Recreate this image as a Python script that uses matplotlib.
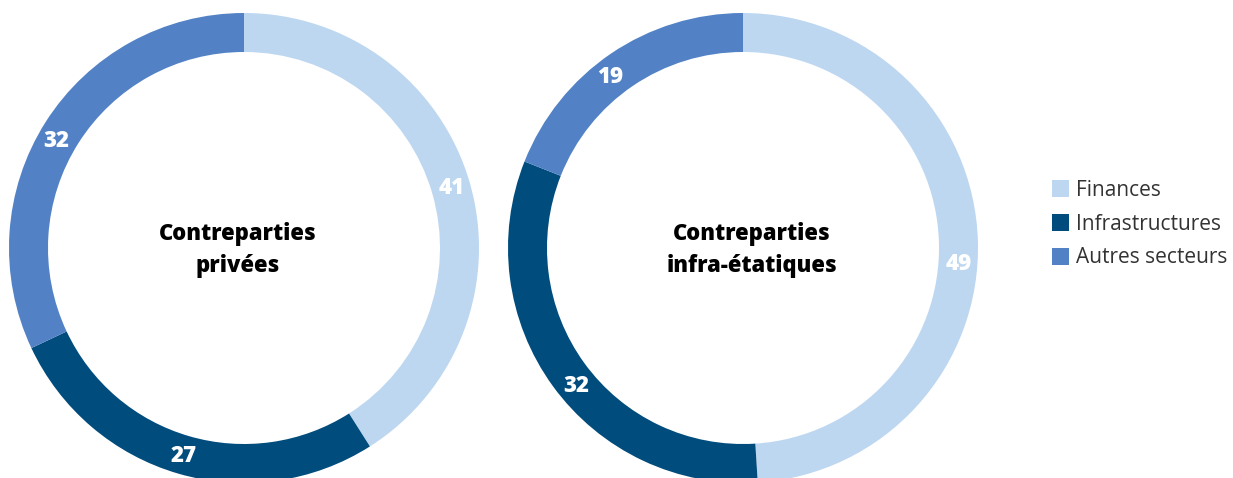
import matplotlib.pyplot as plt
from matplotlib.patches import Patch
import numpy as np

plt.rcParams['font.family'] = ['Open Sans', 'DejaVu Sans']

# Sector shares (%) for each counterparty group
sectors = ["Finances", "Infrastructures", "Autres secteurs"]
colors = ["#BDD7F1", "#004C7D", "#5282C5"]
private_values = [41, 27, 32]
subnational_values = [49, 32, 19]
titles = ["Contreparties\nprivées", "Contreparties\ninfra-étatiques"]

# small clockwise nudges (degrees) for the value labels along the ring
label_nudge = [[0, 0, -2.7], [6, -3.5, -3.7]]

W, H = 1233, 478
fig = plt.figure(figsize=(W / 100, H / 100), dpi=100)
ax = fig.add_axes([0, 0, 1, 1])
ax.set_xlim(0, W)
ax.set_ylim(0, H)
ax.set_aspect('equal')
ax.axis('off')

R = 235
RING = 39
centers = [(244, 230), (743, 230)]
title_x = [238, 752]

for (cx, cy), vals, title, tx, nudges in zip(centers, [private_values, subnational_values],
                                              titles, title_x, label_nudge):
    wedges, _ = ax.pie(vals, colors=colors, center=(cx, cy), radius=R,
                       startangle=90, counterclock=False,
                       wedgeprops=dict(width=RING, linewidth=0))
    for w, v, dn in zip(wedges, vals, nudges):
        ang = np.deg2rad((w.theta1 + w.theta2) / 2 - dn)
        r = R - RING / 2 + 1
        ax.text(cx + r * np.cos(ang), cy + r * np.sin(ang), str(v),
                ha='center', va='center', color='white',
                fontsize=16, fontweight='heavy')
    ax.text(tx, cy - 2, title, ha='center', va='center', color='black',
            fontsize=15.8, fontweight='heavy', linespacing=1.45)

ax.set_xlim(0, W)
ax.set_ylim(0, H)

handles = [Patch(facecolor=c, edgecolor='none') for c in colors]
fig.legend(handles, sectors, loc='center left', bbox_to_anchor=(1033 / W, 1 - 224 / H),
           frameon=False, fontsize=15, handlelength=0.85, handleheight=0.85,
           handletextpad=0.3, labelspacing=0.62, labelcolor='#333333')

fig.savefig("out.png", dpi=100)
